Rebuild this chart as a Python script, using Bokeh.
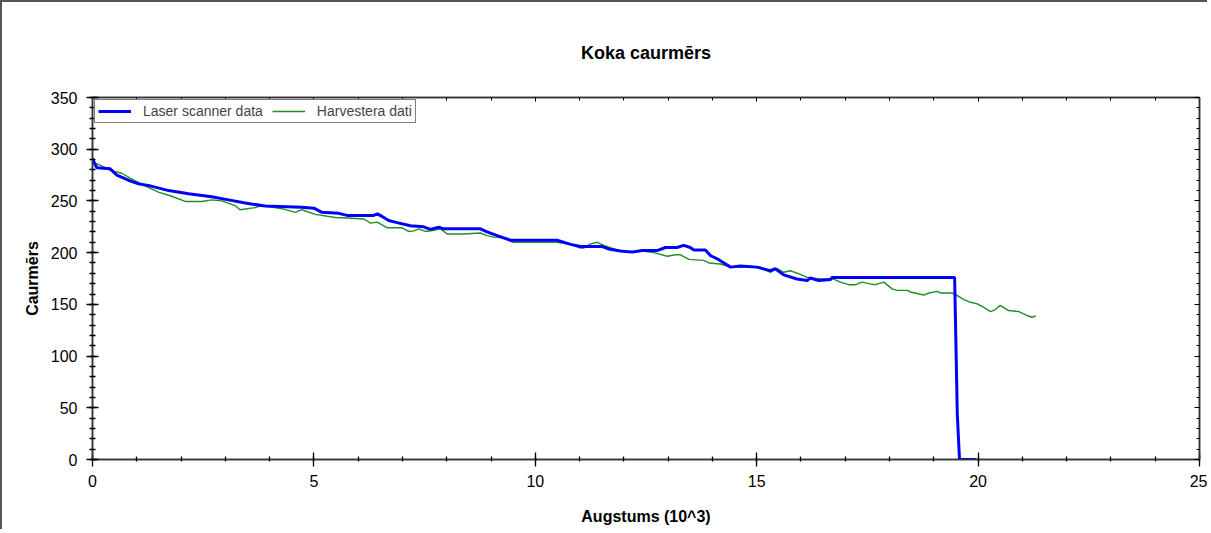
from bokeh.plotting import figure
from bokeh.models import (LinearAxis, Legend, LegendItem, Range1d, CustomJSTickFormatter,
                          SingleIntervalTicker, ColumnDataSource)
from bokeh.embed import file_html
from bokeh.resources import INLINE

# ---- data ----
laser_x = [0.00, 0.05, 0.10, 0.40, 0.55, 0.81, 1.04, 1.26, 1.72, 2.17, 2.69, 3.07, 3.45, 3.90,
           4.73, 5.00, 5.18, 5.56, 5.75, 6.35, 6.43, 6.54, 6.69, 6.88, 7.18, 7.48, 7.63, 7.82,
           7.93, 8.76, 8.91, 9.14, 9.44, 10.49, 10.80, 11.02, 11.50, 11.66, 11.92, 12.19, 12.41,
           12.75, 12.94, 13.20, 13.35, 13.50, 13.58, 13.84, 13.96, 14.11, 14.26, 14.41, 14.63,
           15.01, 15.31, 15.42, 15.61, 15.91, 16.14, 16.21, 16.40, 16.67, 16.70, 19.47, 19.53,
           19.58, 19.96]
laser_y = [291, 286, 282, 281, 275, 270, 266.5, 265, 260, 257, 254, 251, 248, 245,
           244, 243, 239, 238, 236, 236, 237.5, 235, 231, 229, 226, 225, 222.5, 224.5,
           223, 223, 220, 216.5, 212, 212, 208, 206, 206, 203.5, 201.5, 200.5, 202,
           202, 205, 205, 207, 205, 202.5, 202.5, 197, 194, 190, 186, 187,
           186, 182.5, 184.5, 178.5, 174.5, 173, 175.5, 173, 174, 176, 176, 44,
           0, 0]

harv_x = [0.00, 0.20, 0.43, 0.65, 0.89, 1.26, 1.49, 1.79, 2.09, 2.47, 2.69, 2.92, 3.22, 3.33,
          3.67, 3.82, 4.28, 4.58, 4.73, 5.03, 5.48, 5.75, 6.13, 6.28, 6.43, 6.66, 6.99, 7.14,
          7.26, 7.37, 7.52, 7.71, 7.86, 8.01, 8.39, 8.76, 8.91, 9.06, 9.37, 9.48, 10.49, 10.80,
          11.02, 11.10, 11.25, 11.40, 11.55, 11.92, 12.41, 12.68, 12.98, 13.17, 13.27, 13.47,
          13.80, 13.92, 14.18, 14.41, 15.08, 15.31, 15.46, 15.61, 15.76, 15.99, 16.14, 16.44,
          16.74, 16.89, 17.08, 17.23, 17.38, 17.53, 17.68, 17.87, 18.06, 18.17, 18.40, 18.47,
          18.77, 18.89, 19.08, 19.15, 19.41, 19.53, 19.68, 19.83, 19.98, 20.09, 20.28, 20.39,
          20.50, 20.69, 20.92, 21.11, 21.22, 21.30]
harv_y = [288, 284, 279, 277, 271, 263, 258.5, 254.5, 249.5, 249.5, 251, 250, 245.5, 241.5,
          243.5, 245.5, 242.5, 239, 241.5, 237, 234, 233.5, 232.5, 228.5, 229.5, 224, 224, 220.5,
          221, 223, 220.5, 221.5, 223, 218, 218, 219, 216.5, 215, 214, 210, 210, 208,
          204.5, 204.5, 208.5, 210, 207, 201.5, 201.5, 200, 196.5, 198, 198, 193.5,
          192.5, 190, 189, 186, 186, 181, 184.5, 181, 182.5, 179, 176, 174.5,
          174.5, 171.5, 169, 169, 171.5, 170, 169, 171.5, 165, 163.5, 163.5, 162,
          159, 161, 162.5, 161, 161, 158.5, 154.5, 152, 150.5, 148, 143, 145,
          149, 144, 143, 139, 137.5, 139]

series_names = ["Laser scanner data", "Harvestera dati"]
title_text = "Koka caurmērs"
x_label = "Augstums (10^3)"
y_label = "Caurmērs"

FONT = "Liberation Sans"
AX = "#333333"

p = figure(width=1207, height=529, x_range=Range1d(0, 25), y_range=Range1d(0, 350),
           output_backend="svg", toolbar_location=None, title=title_text,
           min_border_left=90, min_border_top=95, min_border_right=10, min_border_bottom=72,
           background_fill_color="white", border_fill_color="white")
p.styles = {"border-left": "2px solid #555555", "border-top": "2px solid #555555"}

p.xgrid.visible = False
p.ygrid.visible = False
p.outline_line_color = AX
p.outline_line_width = 1.5

xt = SingleIntervalTicker(interval=5, num_minor_ticks=5)
yt = SingleIntervalTicker(interval=50, num_minor_ticks=5)

for ax in p.xaxis:
    ax.ticker = xt
    ax.major_tick_in = 7
    ax.major_tick_out = 7
    ax.minor_tick_in = 3
    ax.minor_tick_out = 2
    ax.major_label_standoff = 8
    ax.axis_label_standoff = 18
for ax in p.yaxis:
    ax.ticker = yt
    ax.major_tick_in = 6
    ax.major_tick_out = 6
    ax.minor_tick_in = 3
    ax.minor_tick_out = 3
    ax.major_label_standoff = 9
    ax.axis_label_standoff = 7

for ax in list(p.xaxis) + list(p.yaxis):
    ax.axis_line_color = AX
    ax.axis_line_width = 1.5
    ax.major_tick_line_color = "black"
    ax.minor_tick_line_color = "black"
    ax.major_tick_line_width = 1.3
    ax.minor_tick_line_width = 1.3
    ax.major_label_text_font = FONT
    ax.major_label_text_font_size = "16px"
    ax.major_label_text_color = "black"
    ax.axis_label_text_font = FONT
    ax.axis_label_text_font_size = "16px"
    ax.axis_label_text_font_style = "bold"
    ax.axis_label_text_color = "black"

p.xaxis.axis_label = x_label
p.yaxis.axis_label = y_label

blank = CustomJSTickFormatter(code="return ''")
top = LinearAxis(ticker=xt, formatter=blank, major_tick_in=4, major_tick_out=0,
                 minor_tick_in=3, minor_tick_out=0,
                 major_label_text_font_size="0px", major_label_standoff=0,
                 axis_line_color=AX, axis_line_width=1.5,
                 major_tick_line_color="black", minor_tick_line_color="black")
right = LinearAxis(ticker=yt, formatter=blank, major_tick_in=5, major_tick_out=0,
                   minor_tick_in=3, minor_tick_out=0,
                   major_label_text_font_size="0px", major_label_standoff=0,
                   axis_line_color=AX, axis_line_width=1.5,
                   major_tick_line_color="black", minor_tick_line_color="black")
p.add_layout(top, "above")
p.add_layout(right, "right")

src_l = ColumnDataSource(dict(x=laser_x, y=laser_y))
src_h = ColumnDataSource(dict(x=harv_x, y=harv_y))
r_h = p.line("x", "y", source=src_h, line_color="#1f8f1f", line_width=1.4)
r_l = p.line("x", "y", source=src_l, line_color="#0000ff", line_width=3)

legend = Legend(items=[LegendItem(label=series_names[0], renderers=[r_l]),
                       LegendItem(label=series_names[1], renderers=[r_h])],
                orientation="horizontal", location="top_left", margin=2, padding=3,
                spacing=9, glyph_width=33, glyph_height=14, label_height=14,
                label_standoff=12, label_text_font=FONT, label_text_font_size="14px",
                border_line_color="black", border_line_width=1,
                background_fill_color="white", background_fill_alpha=1)
p.add_layout(legend, "center")

p.title.text_font = FONT
p.title.text_font_size = "18px"
p.title.text_font_style = "bold"
p.title.text_color = "black"
p.title.align = "center"
p.title.standoff = 70

open("out.html", "w").write(file_html(p, INLINE))
